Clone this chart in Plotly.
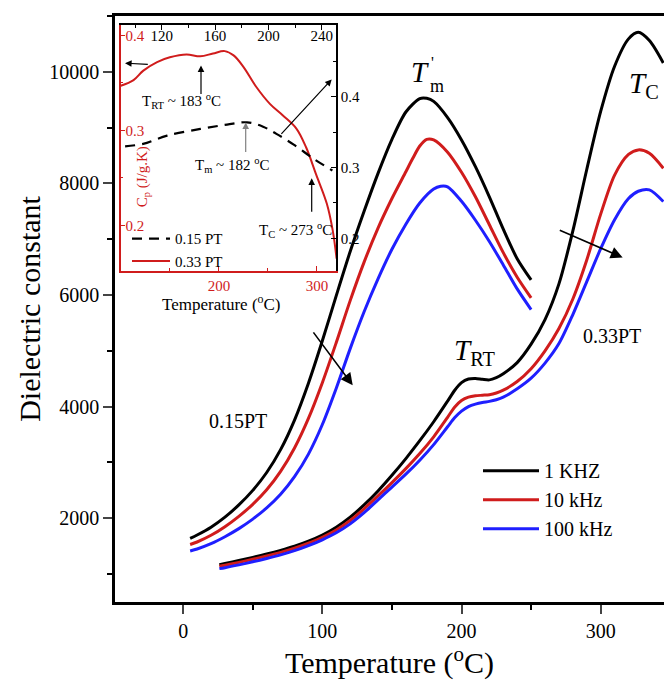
import plotly.graph_objects as go

# ---------------- data ----------------
# 0.15PT dielectric constant
t15_1k = [5, 10, 20, 30, 40, 50, 60, 70, 80, 90, 100, 110, 120, 130, 140, 150, 160, 170, 175, 180, 190, 200, 210, 220, 230, 240, 250]
e15_1k = [1640, 1700, 1840, 2020, 2240, 2500, 2820, 3230, 3760, 4420, 5180, 5990, 6780, 7500, 8180, 8790, 9280, 9520, 9525, 9470, 9180, 8780, 8300, 7760, 7180, 6650, 6270]
t15_10k = [5, 10, 20, 30, 40, 50, 60, 70, 80, 90, 100, 110, 120, 130, 140, 150, 160, 165, 170, 175, 180, 190, 200, 210, 220, 230, 240, 250]
e15_10k = [1530, 1575, 1695, 1850, 2035, 2250, 2510, 2840, 3260, 3790, 4430, 5150, 5900, 6590, 7200, 7730, 8210, 8450, 8670, 8790, 8780, 8560, 8200, 7760, 7260, 6760, 6320, 5950]
t15_100k = [5, 10, 20, 30, 40, 50, 60, 70, 80, 90, 100, 110, 120, 130, 140, 150, 160, 170, 180, 185, 190, 200, 210, 220, 230, 240, 250]
e15_100k = [1415, 1450, 1545, 1670, 1815, 1985, 2185, 2430, 2745, 3150, 3680, 4330, 5040, 5700, 6290, 6820, 7270, 7650, 7900, 7950, 7940, 7680, 7340, 6960, 6540, 6110, 5740]

# 0.33PT dielectric constant
t33 = [26, 30, 40, 50, 60, 70, 80, 90, 100, 110, 120, 130, 140, 150, 160, 170, 180, 190, 195, 200, 205, 210, 215, 220, 225, 230, 240, 250, 260, 270, 280, 290, 300, 310, 320, 327, 335, 345]
e33_1k = [1169, 1190, 1245, 1300, 1360, 1426, 1500, 1590, 1700, 1840, 2020, 2240, 2490, 2770, 3070, 3390, 3730, 4100, 4290, 4430, 4495, 4505, 4490, 4480, 4520, 4590, 4790, 5120, 5560, 6200, 7150, 8250, 9290, 10100, 10590, 10707, 10560, 10158]
e33_10k = [1140, 1160, 1210, 1265, 1325, 1390, 1465, 1555, 1660, 1790, 1960, 2170, 2400, 2640, 2890, 3160, 3460, 3810, 3990, 4110, 4170, 4195, 4205, 4215, 4245, 4295, 4450, 4680, 5000, 5400, 5930, 6629, 7450, 8150, 8520, 8601, 8540, 8273]
e33_100k = [1098, 1115, 1165, 1220, 1280, 1345, 1420, 1510, 1615, 1740, 1900, 2100, 2330, 2560, 2790, 3040, 3320, 3640, 3800, 3920, 4000, 4045, 4075, 4095, 4125, 4170, 4320, 4510, 4780, 5130, 5650, 6240, 6830, 7350, 7730, 7860, 7884, 7675]

# inset: specific heat
t_cp33 = [100, 113, 123, 137, 150, 167, 181, 194, 206, 215, 225, 238, 252, 265, 279, 289, 299, 310, 316, 320]
cp33 = [0.347, 0.353, 0.363, 0.372, 0.377, 0.380, 0.378, 0.381, 0.3835, 0.379, 0.367, 0.346, 0.328, 0.316, 0.302, 0.282, 0.254, 0.223, 0.195, 0.165]
t_cp15 = [92.5, 106, 124, 149, 169, 184, 196, 206, 219, 234, 248]
cp15 = [0.330, 0.3334, 0.3451, 0.3545, 0.3606, 0.3638, 0.3577, 0.3475, 0.3324, 0.3123, 0.2958]

freq_names = ["1 KHZ", "10 kHz", "100 kHz"]

# ---------------- styling ----------------
FONT = "Liberation Serif"
BLACK, RED, BLUE = "#000000", "#d01c1c", "#1f1fff"
L, R, T, B = 115, 0, 15.5, 81
W, H = 664, 683
PW, PH = W - L - R, H - T - B


def P(px, py):
    return (px - L) / PW, (H - B - py) / PH


fig = go.Figure()

cols = [BLACK, RED, BLUE]
s15 = [(t15_1k, e15_1k), (t15_10k, e15_10k), (t15_100k, e15_100k)]
for (tx, ey), c, n in zip(s15, cols, freq_names):
    fig.add_trace(go.Scatter(x=tx, y=ey, mode="lines", name=n,
                             line=dict(color=c, width=3, shape="spline", smoothing=0.8), legend="legend"))
for ey, c, n in zip([e33_1k, e33_10k, e33_100k], cols, freq_names):
    fig.add_trace(go.Scatter(x=t33, y=ey, mode="lines", name=n, showlegend=False,
                             line=dict(color=c, width=3, shape="spline", smoothing=0.8)))

# inset traces
fig.add_trace(go.Scatter(x=t_cp15, y=cp15, mode="lines", name="0.15 PT", xaxis="x3", yaxis="y3",
                         line=dict(color=BLACK, width=2.2, dash="10px,7px", shape="spline"), legend="legend2"))
fig.add_trace(go.Scatter(x=t_cp33, y=cp33, mode="lines", name="0.33 PT", xaxis="x2", yaxis="y2",
                         line=dict(color=RED, width=2, shape="spline"), legend="legend2"))

ix0, iy0 = P(120.7, 270.7)
ix1, iy1 = P(336, 25)

fig.update_layout(
    width=W, height=H, margin=dict(l=L, r=R, t=T, b=B),
    plot_bgcolor="white", paper_bgcolor="white",
    font=dict(family=FONT, color="black"),
    xaxis=dict(range=[-49, 345.5], dtick=100, tick0=0, ticks="outside", ticklen=9, tickwidth=2,
               showline=True, linewidth=2.5, linecolor="black", mirror=True, showgrid=False, zeroline=False,
               minor=dict(dtick=50, ticks="outside", ticklen=5, tickwidth=2, tickcolor="black"),
               tickfont=dict(size=20, family=FONT),
               title=dict(text="Temperature (<sup>o</sup>C)", font=dict(size=30, family=FONT), standoff=11)),
    yaxis=dict(range=[500, 11000], dtick=2000, tick0=0, tickformat="d", ticks="outside", ticklen=9, tickwidth=2,
               showline=True, linewidth=2.5, linecolor="black", showgrid=False, zeroline=False,
               minor=dict(dtick=1000, ticks="outside", ticklen=5, tickwidth=2, tickcolor="black"),
               tickfont=dict(size=20, family=FONT),
               title=dict(text="Dielectric constant", font=dict(size=30, family=FONT), standoff=0)),
    xaxis2=dict(domain=[ix0, ix1], anchor="y2", range=[99.9, 319.4], dtick=100, tick0=0,
                ticks="inside", ticklen=5, tickwidth=1.2, tickcolor=RED,
                showline=True, linewidth=1.5, linecolor=RED, showgrid=False, zeroline=False,
                minor=dict(dtick=50, ticks="inside", ticklen=3, tickcolor=RED),
                tickfont=dict(size=15, color=RED, family=FONT)),
    xaxis3=dict(overlaying="x2", side="top", anchor="y2", range=[89.2, 250.7], dtick=40, tick0=0,
                ticks="inside", ticklen=5, tickwidth=1.2, tickcolor="black", ticklabelposition="inside",
                showline=True, linewidth=1.5, linecolor="black", showgrid=False, zeroline=False,
                minor=dict(dtick=20, ticks="inside", ticklen=3, tickcolor="black"),
                tickfont=dict(size=15, color="black", family=FONT)),
    yaxis2=dict(domain=[iy0, iy1], anchor="x2", range=[0.152, 0.4105], dtick=0.1, tick0=0, tickformat=".1f",
                ticks="inside", ticklen=5, tickwidth=1.2, tickcolor=RED, ticklabelposition="inside",
                showline=True, linewidth=1.5, linecolor=RED, showgrid=False, zeroline=False,
                minor=dict(dtick=0.05, ticks="inside", ticklen=3, tickcolor=RED),
                tickfont=dict(size=15, color=RED, family=FONT)),
    yaxis3=dict(overlaying="y2", side="right", anchor="x2", range=[0.154, 0.5005], dtick=0.1, tick0=0,
                tickformat=".1f", ticks="inside", ticklen=5, tickwidth=1.2, tickcolor="black",
                showline=True, linewidth=1.5, linecolor="black", showgrid=False, zeroline=False,
                minor=dict(dtick=0.05, ticks="inside", ticklen=3, tickcolor="black"),
                tickfont=dict(size=15, color="black", family=FONT)),
    legend=dict(x=P(478, 0)[0], y=P(0, 451)[1], xanchor="left", yanchor="top",
                font=dict(size=20, family=FONT), itemwidth=56, bgcolor="rgba(0,0,0,0)", tracegroupgap=0),
    legend2=dict(x=P(127, 0)[0], y=P(0, 222)[1], xanchor="left", yanchor="top",
                 font=dict(size=15, family=FONT), itemwidth=38, bgcolor="rgba(0,0,0,0)", tracegroupgap=0),
)

ann = []


def text(px, py, s, size, color="black", xanchor="center", angle=0):
    x, y = P(px, py)
    ann.append(dict(x=x, y=y, xref="paper", yref="paper", text=s, showarrow=False, xanchor=xanchor,
                    yanchor="middle", textangle=angle, font=dict(family=FONT, size=size, color=color)))


def arrow(hx, hy, tx, ty, color="black", width=1.5, size=1.4):
    x, y = P(hx, hy)
    ann.append(dict(x=x, y=y, xref="paper", yref="paper", text="", showarrow=True, ax=tx - hx, ay=ty - hy,
                    arrowhead=2, arrowsize=size, arrowwidth=width, arrowcolor=color))


# main annotations
text(420, 72, "<i>T</i>", 29)
text(432, 62, "'", 16)
text(437, 86, "m", 18)
text(627, 85, "<i>T</i><sub>C</sub>", 29, xanchor="left")
text(452, 352, "<i>T</i><sub>RT</sub>", 29, xanchor="left")
text(238, 421, "0.15PT", 20)
text(612, 336, "0.33PT", 20)
arrow(352.7, 385, 312.3, 330.7, width=1.6, size=1.5)
arrow(622.7, 257.3, 558.3, 229.3, width=1.6, size=1.5)

# inset annotations
text(181, 101, "T<sub>RT</sub> ~ 183 <sup>o</sup>C", 15)
text(232, 165, "T<sub>m</sub> ~ 182 <sup>o</sup>C", 15)
text(295, 230, "T<sub>C</sub> ~ 273 <sup>o</sup>C", 15)
text(221.7, 303, "Temperature (<sup>o</sup>C)", 17)
text(143, 177, "C<sub>p</sub> (J/g.K)", 15, color=RED, angle=-90)
arrow(125, 62.7, 149.3, 64, width=1.2, size=1.1)
arrow(201, 65, 201, 95, width=1.2, size=1.1)
arrow(245.7, 122, 245.7, 153, color="#808080", width=1.2, size=1.1)
arrow(331.7, 79, 280, 135, width=1.2, size=1.1)
arrow(311.7, 178, 311.7, 213, width=1.2, size=1.1)

fig.update_layout(annotations=ann)
fig.write_html("out.html", config={"displayModeBar": False},
               post_script="document.body.style.margin='0px';document.body.style.overflow='hidden';")
